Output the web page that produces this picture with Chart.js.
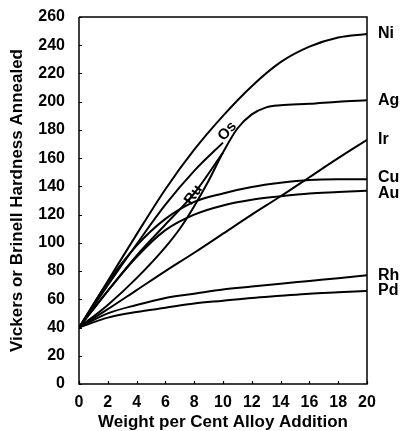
<!DOCTYPE html>
<html>
<head>
<meta charset="utf-8">
<script src="https://cdn.jsdelivr.net/npm/chart.js@4.4.1/dist/chart.umd.min.js"></script>
<style>
  html,body{margin:0;padding:0;background:#fff;}
  #wrap{width:402px;height:431px;position:relative;}
</style>
</head>
<body>
<div id="wrap"><canvas id="hardness"></canvas></div>
<script>
// weight per cent alloy addition
var xs   = [0,2,4,6,8,10,12,14,16,18,20];
var ni   = [40,73,106,138,166,190,211,228,239,245.5,248];
var ir   = [40,53,66.5,80,93,106.5,120,133,146.5,160,173];
var cu   = [40,72,98,117,129,135,139.5,142.5,144.5,145,145];
var au   = [40,66,90,109,120,126.5,130.5,133,135,136,137];
var rh   = [40,50,56,61,64,67,69,71,73,75,77];
var pd   = [40,47,51,54,57,59,61,62.5,64,65,66];
// silver has its own sample points (steep rise then plateau)
var agX  = [0,2,4,6,7,8,9,10,11,12,13,14,16,18,20];
var ag   = [40,56,75,97,110,126,144,164,181,191,196,197.5,198.5,200,201];
// osmium and ruthenium stop at 10 per cent
var osX  = [0,2,4,6,8,10];
var os   = [40,70,99,127,151,171];
var ruX  = [0,2,4,6,8,10];
var ru   = [40,66,91,113,135,164];

var endNames = ['Ni','Ag','Ir','Cu','Au','Rh','Pd'];
var xTicks = [0,2,4,6,8,10,12,14,16,18,20];
var yTicks = [0,20,40,60,80,100,120,140,160,180,200,220,240,260];

// in-line labels: name, x, y (data units), angle in degrees
var noteName  = ['Os','Ru'];
var noteX     = [10.3,7.95];
var noteY     = [179,134];
var noteAngle = [-48,-56];

function pts(x, y){
  return y.map(function(v,i){ return {x:x[i], y:v}; });
}

function line(label, data){
  return {
    label:label, data:data,
    borderColor:'#000', borderWidth:2,
    pointRadius:0, fill:false,
    cubicInterpolationMode:'monotone'
  };
}

var FONT = '"Liberation Sans", Arial, Helvetica, sans-serif';

var decor = {
  id:'decor',
  afterDatasetsDraw:function(chart){
    var ctx = chart.ctx, a = chart.chartArea;
    var sx = chart.scales.x, sy = chart.scales.y;
    ctx.save();
    ctx.strokeStyle = '#000';
    ctx.lineWidth = 1.5;
    ctx.beginPath();
    ctx.moveTo(a.left, a.top); ctx.lineTo(a.right, a.top);
    ctx.lineTo(a.right, a.bottom); ctx.lineTo(a.left, a.bottom);
    ctx.lineTo(a.left, a.top);
    ctx.stroke();

    // small inward tick marks
    ctx.lineWidth = 1.2;
    ctx.beginPath();
    yTicks.forEach(function(v){
      var p = Math.round(sy.getPixelForValue(v)) + 0.5;
      ctx.moveTo(a.left, p); ctx.lineTo(a.left + 3, p);
    });
    xTicks.forEach(function(v){
      var p = Math.round(sx.getPixelForValue(v)) + 0.5;
      ctx.moveTo(p, a.bottom); ctx.lineTo(p, a.bottom - 3);
    });
    ctx.stroke();

    // element names at the right end
    ctx.fillStyle = '#000';
    ctx.font = 'bold 16px ' + FONT;
    ctx.textAlign = 'left';
    ctx.textBaseline = 'middle';
    var nudge = {Cu:-2, Au:3};
    endNames.forEach(function(n){
      var ds = chart.data.datasets.find(function(d){ return d.label === n; });
      var last = ds.data[ds.data.length - 1];
      var y = sy.getPixelForValue(last.y) + (nudge[n] || 0);
      ctx.fillText(n, a.right + 11, y);
    });

    // rotated labels along Os and Ru
    ctx.font = 'bold 15px ' + FONT;
    noteName.forEach(function(n, i){
      ctx.save();
      ctx.translate(sx.getPixelForValue(noteX[i]), sy.getPixelForValue(noteY[i]));
      ctx.rotate(noteAngle[i] * Math.PI / 180);
      ctx.textAlign = 'center';
      ctx.fillText(n, 0, 0);
      ctx.restore();
    });
    ctx.restore();
  }
};

new Chart(document.getElementById('hardness'), {
  type:'line',
  data:{
    datasets:[
      line('Ni', pts(xs, ni)),
      line('Ag', pts(agX, ag)),
      line('Ir', pts(xs, ir)),
      line('Cu', pts(xs, cu)),
      line('Au', pts(xs, au)),
      line('Rh', pts(xs, rh)),
      line('Pd', pts(xs, pd)),
      line('Os', pts(osX, os)),
      line('Ru', pts(ruX, ru))
    ]
  },
  options:{
    responsive:true, maintainAspectRatio:false,
    animation:false, devicePixelRatio:1,
    layout:{padding:{top:17, right:35, left:0, bottom:0}},
    plugins:{legend:{display:false}, tooltip:{enabled:false}},
    scales:{
      x:{
        type:'linear', min:0, max:20,
        afterFit:function(s){ s.height = 47; },
        afterBuildTicks:function(s){ s.ticks = xTicks.map(function(v){ return {value:v}; }); },
        grid:{display:false}, border:{display:false},
        ticks:{color:'#000', padding:1, maxRotation:0, font:{family:FONT, size:16, weight:'bold'}},
        title:{display:true, text:'Weight per Cent Alloy Addition', color:'#000',
               padding:{top:0.5, bottom:0}, font:{family:FONT, size:17, weight:'bold', lineHeight:1}}
      },
      y:{
        type:'linear', min:0, max:260,
        afterFit:function(s){ s.width = 79; },
        afterBuildTicks:function(s){ s.ticks = yTicks.map(function(v){ return {value:v}; }); },
        grid:{display:false}, border:{display:false},
        ticks:{color:'#000', padding:6, font:{family:FONT, size:16, weight:'bold'}},
        title:{display:true, text:'Vickers or Brinell Hardness Annealed', color:'#000',
               padding:{top:8.5, bottom:0}, font:{family:FONT, size:17, weight:'bold', lineHeight:1}}
      }
    }
  },
  plugins:[decor]
});
</script>
</body>
</html>
